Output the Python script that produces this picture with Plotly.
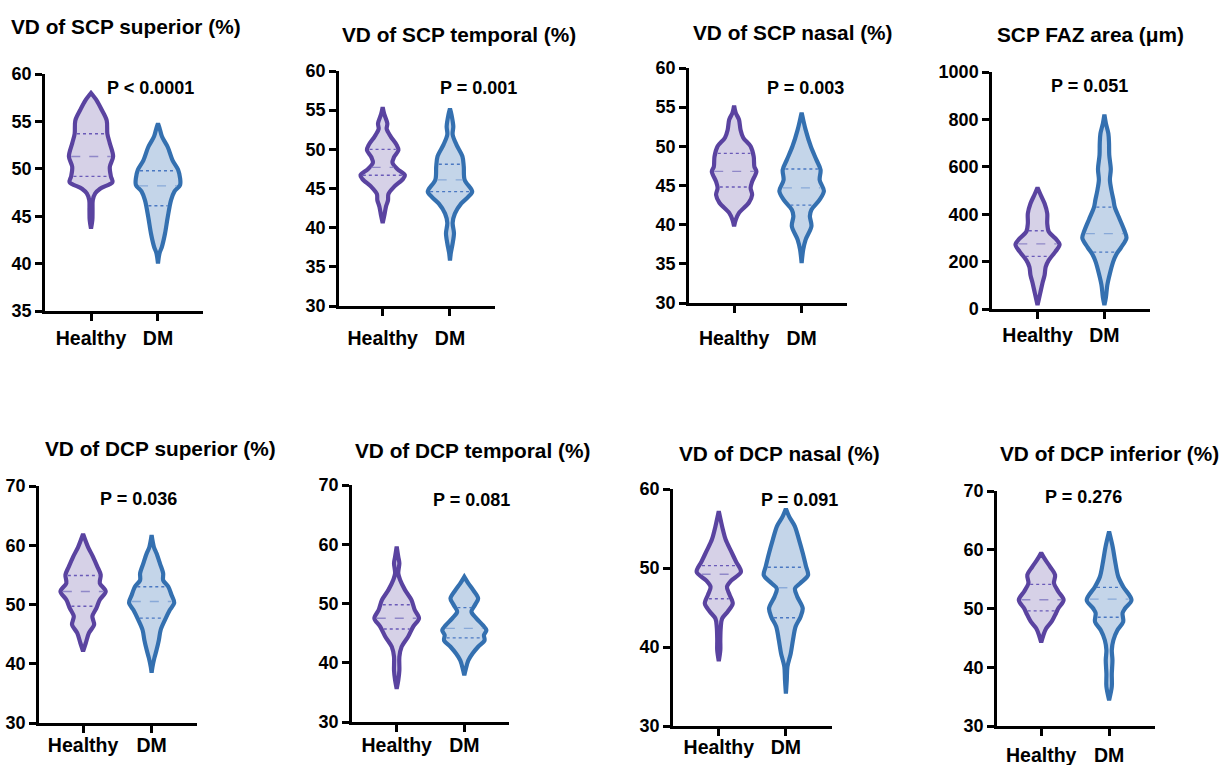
import numpy as np
import plotly.graph_objects as go

groups = ["Healthy", "DM"]

titles = ["VD of SCP superior (%)", "VD of SCP temporal (%)", "VD of SCP nasal (%)", "SCP FAZ area (μm)",
          "VD of DCP superior (%)", "VD of DCP temporal (%)", "VD of DCP nasal (%)", "VD of DCP inferior (%)"]
p_values = ["P < 0.0001", "P = 0.001", "P = 0.003", "P = 0.051",
            "P = 0.036", "P = 0.081", "P = 0.091", "P = 0.276"]
y_ranges = [(35, 60), (30, 60), (30, 60), (0, 1000), (30, 70), (30, 70), (30, 60), (30, 70)]
y_dticks = [5, 5, 5, 200, 10, 10, 10, 10]

# Violin density profiles: value levels and relative density (0-1)
scp_sup_h_y = [58.0, 57.2, 56.2, 55.1, 53.7, 52.7, 51.3, 50.2, 49.2, 48.6, 47.9, 47.4, 46.7, 45.6, 44.6, 43.7]
scp_sup_h_d = [0, .26, .49, .71, .74, .85, 1.0, .85, .90, .97, .41, .19, .08, .07, .06, 0]
scp_sup_dm_y = [54.8, 54.3, 53.4, 52.3, 50.9, 49.9, 49.0, 48.3, 47.6, 46.7, 44.9, 43.2, 41.8, 41.1, 40.0]
scp_sup_dm_d = [0, .07, .18, .44, .66, .91, 1, 1, .74, .59, .44, .32, .18, .07, 0]

scp_tem_h_y = [55.4, 54.5, 53.3, 52.6, 51.6, 50.6, 49.9, 49.0, 48.3, 47.5, 46.7, 46.2, 45.2, 44.3, 43.5, 42.7, 41.5, 40.6]
scp_tem_h_d = [0, .07, .21, .18, .37, .62, .71, .51, .44, .66, 1, .91, .51, .26, .24, .15, .07, 0]
scp_tem_dm_y = [55.2, 54.4, 52.9, 51.9, 50.6, 49.1, 47.8, 46.1, 44.6, 43.9, 43.1, 41.8, 40.6, 39.3, 38.0, 36.8, 35.8]
scp_tem_dm_d = [0, .07, .15, .12, .29, .56, .62, .66, 1, .81, .51, .22, .12, .18, .12, .04, 0]

scp_nas_h_y = [55.2, 54.3, 53.4, 52.1, 51.1, 50.0, 48.7, 47.4, 46.8, 45.5, 44.7, 43.8, 42.8, 41.5, 40.6, 39.8]
scp_nas_h_d = [0, .07, .22, .29, .41, .74, .88, .91, 1, .81, .74, .81, .66, .22, .07, 0]
scp_nas_dm_y = [54.3, 53.4, 52.1, 50.0, 48.3, 47.0, 45.7, 44.3, 43.2, 41.9, 41.1, 39.8, 38.1, 36.8, 35.1]
scp_nas_dm_d = [0, .07, .18, .41, .66, .85, .81, 1, .81, .44, .37, .44, .18, .07, 0]

scp_faz_h_y = [512, 480, 445, 403, 361, 326, 298, 272, 242, 206, 178, 143, 108, 66, 17]
scp_faz_h_d = [0, .15, .32, .44, .44, .51, .81, 1, .81, .51, .37, .32, .22, .12, 0]
scp_faz_dm_y = [820, 782, 740, 700, 650, 590, 545, 500, 460, 430, 380, 330, 300, 260, 230, 200, 150, 100, 50, 17]
scp_faz_dm_d = [0, .07, .18, .21, .22, .29, .25, .32, .41, .47, .69, .91, 1, .76, .54, .40, .25, .13, .07, 0]

dcp_sup_h_y = [61.9, 59.7, 58.05, 56.4, 55.0, 53.6, 52.2, 50.8, 49.4, 48.0, 46.6, 45.2, 43.5, 42.1]
dcp_sup_h_d = [0, .22, .44, .63, .78, .74, 1, .74, .59, .41, .49, .26, .12, 0]
dcp_sup_dm_y = [61.7, 59.7, 58.6, 56.9, 55.25, 54.1, 53.0, 51.6, 50.3, 49.1, 47.4, 45.7, 44.0, 42.35, 40.95, 39.5, 38.5]
dcp_sup_dm_d = [0, .10, .22, .37, .51, .51, .74, .88, 1, .81, .59, .40, .32, .22, .12, .04, 0]

dcp_tem_h_y = [59.6, 57.9, 56.8, 55.1, 54.0, 52.3, 50.6, 48.9, 47.5, 46.1, 44.4, 42.7, 41.0, 38.7, 37.0, 35.6]
dcp_tem_h_d = [0, .07, .12, .07, .15, .37, .66, .81, 1, .74, .51, .22, .12, .12, .07, 0]
dcp_tem_dm_y = [54.5, 53.4, 52.25, 50.85, 49.7, 48.6, 47.5, 46.3, 45.5, 44.65, 43.8, 42.7, 41.55, 40.4, 39.0, 37.9]
dcp_tem_dm_d = [0, .18, .40, .62, .47, .32, .54, .84, .99, .88, .91, .62, .37, .18, .07, 0]

dcp_nas_h_y = [57.2, 54.8, 53.6, 52.1, 50.8, 49.5, 48.4, 47.6, 46.6, 45.5, 44.5, 43.6, 42.5, 40.9, 39.6, 38.2]
dcp_nas_h_d = [0, .19, .31, .56, .78, 1, .56, .37, .49, .63, .41, .15, .09, .07, .07, 0]
dcp_nas_dm_y = [57.5, 56.5, 55.3, 53.6, 51.9, 50.2, 49.1, 48.1, 47.4, 46.4, 44.9, 43.8, 42.6, 40.9, 39.2, 37.5, 35.8, 34.1]
dcp_nas_dm_d = [0, .15, .40, .59, .76, .91, 1, .66, .41, .51, .76, .66, .44, .32, .22, .07, .04, 0]

dcp_inf_h_y = [59.5, 58.3, 57.1, 55.7, 54.3, 52.9, 51.45, 50.0, 49.2, 47.8, 46.6, 45.5, 44.2]
dcp_inf_h_d = [0, .18, .40, .62, .57, .76, 1, .76, .66, .47, .22, .10, 0]
dcp_inf_dm_y = [63.1, 60.5, 58.25, 55.4, 53.7, 51.45, 50.0, 49.2, 47.75, 46.3, 44.6, 42.9, 41.2, 38.9, 36.7, 34.4]
dcp_inf_dm_d = [0, .16, .26, .41, .63, 1, .71, .60, .63, .37, .19, .12, .15, .12, .12, 0]

# Quartiles (Q1, median, Q3) per panel: Healthy, DM
quart_healthy = [(49.2, 51.3, 53.7), (46.7, 47.7, 50.0), (44.8, 46.8, 49.1), (222, 275, 330),
                 (49.7, 52.2, 54.9), (45.7, 47.5, 49.8), (46.1, 49.2, 50.3), (49.6, 51.5, 54.1)]
quart_dm = [(46.1, 48.2, 49.8), (44.6, 46.1, 48.1), (42.5, 44.7, 47.1), (240, 318, 430),
            (47.7, 50.5, 53.0), (44.2, 45.8, 49.3), (43.7, 47.5, 50.1), (48.5, 51.6, 53.6)]

profiles = [
    ((scp_sup_h_y, scp_sup_h_d), (scp_sup_dm_y, scp_sup_dm_d)),
    ((scp_tem_h_y, scp_tem_h_d), (scp_tem_dm_y, scp_tem_dm_d)),
    ((scp_nas_h_y, scp_nas_h_d), (scp_nas_dm_y, scp_nas_dm_d)),
    ((scp_faz_h_y, scp_faz_h_d), (scp_faz_dm_y, scp_faz_dm_d)),
    ((dcp_sup_h_y, dcp_sup_h_d), (dcp_sup_dm_y, dcp_sup_dm_d)),
    ((dcp_tem_h_y, dcp_tem_h_d), (dcp_tem_dm_y, dcp_tem_dm_d)),
    ((dcp_nas_h_y, dcp_nas_h_d), (dcp_nas_dm_y, dcp_nas_dm_d)),
    ((dcp_inf_h_y, dcp_inf_h_d), (dcp_inf_dm_y, dcp_inf_dm_d)),
]

# ---------- styling / layout ----------
W, H = 1222, 765
FONT = "Liberation Sans, Arial, Helvetica, sans-serif"
HALF = 0.33  # max half-width of a violin in category units
line_col = ["#5A43A0", "#3470B0"]
fill_col = ["#D6D1E7", "#C4D5E9"]
q_col = ["#6A5AB8", "#4A78C2"]
med_col = ["#9088C8", "#88A9D8"]

# pixel boxes of each plot area: (left, right, top, bottom)
boxes = [(45, 203, 74, 311), (339, 495, 71, 306), (689, 847, 68, 303), (992, 1150, 72, 309),
         (39, 197, 486, 723), (352, 509, 485, 722), (673, 832, 489, 726), (997, 1155, 491, 726)]
x_ranges = [(-0.687, 1.672), (-0.649, 1.669), (-0.668, 1.672), (-0.681, 1.682),
            (-0.643, 1.662), (-0.661, 1.661), (-0.682, 1.687), (-0.651, 1.676)]
title_pos = [(126, 27), (459, 35), (793, 33), (1090, 35), (160, 448), (473, 450), (779, 453), (1109, 453)]
p_pos = [(150, 88), (478, 88), (806, 88), (1089, 86), (138, 499), (471, 500), (799, 500), (1083, 497)]
x_standoff = [1, 6, 9, 0, -4, -3, -5, 3]

fig = go.Figure()
annotations = []
layout = {}

for i in range(8):
    ax = "" if i == 0 else str(i + 1)
    xref, yref = "x" + ax, "y" + ax
    for g in range(2):
        ys, ds = profiles[i][g]
        ys = np.array(ys, float)
        ds = np.array(ds, float)
        xr = g + ds * HALF
        xl = g - ds * HALF
        xs = np.concatenate([xr, xl[::-1], xr[:1]])
        yy = np.concatenate([ys, ys[::-1], ys[:1]])
        fig.add_trace(go.Scatter(x=xs, y=yy, mode="lines", fill="toself",
                                 fillcolor=fill_col[g],
                                 line=dict(color=line_col[g], width=4.2, shape="spline", smoothing=0.9),
                                 xaxis=xref, yaxis=yref, showlegend=False, hoverinfo="skip"))
        qs = quart_healthy[i] if g == 0 else quart_dm[i]
        order = np.argsort(ys)
        for k, q in enumerate(qs):
            hw = np.interp(q, ys[order], ds[order]) * HALF - 0.035
            fig.add_trace(go.Scatter(x=[g - hw, g + hw], y=[q, q], mode="lines",
                                     line=dict(color=med_col[g] if k == 1 else q_col[g], width=1.4,
                                               dash="dash" if k == 1 else "dot"),
                                     xaxis=xref, yaxis=yref, showlegend=False, hoverinfo="skip"))

    l, r, t, b = boxes[i]
    layout["xaxis" + ax] = dict(domain=[l / W, r / W], range=list(x_ranges[i]), anchor=yref,
                                tickvals=[0, 1], ticktext=groups, showline=True, linecolor="black",
                                linewidth=2.5, ticks="outside", ticklen=7, tickwidth=2.5, tickcolor="black",
                                showgrid=False, zeroline=False, ticklabelstandoff=x_standoff[i],
                                automargin=False, fixedrange=True,
                                tickfont=dict(family=FONT, size=19.5, color="black", weight="bold"))
    y0, y1 = y_ranges[i]
    layout["yaxis" + ax] = dict(domain=[1 - b / H, 1 - t / H], range=[y0, y1], anchor=xref,
                                dtick=y_dticks[i], tick0=0, showline=True, linecolor="black",
                                linewidth=2.5, ticks="outside", ticklen=7, tickwidth=2.5, tickcolor="black",
                                showgrid=False, zeroline=False, automargin=False, fixedrange=True,
                                tickfont=dict(family=FONT, size=18, color="black", weight="bold"))
    tx, ty = title_pos[i]
    annotations.append(dict(text=titles[i], x=tx / W, y=1 - ty / H, xref="paper", yref="paper",
                            showarrow=False, xanchor="center", yanchor="middle",
                            font=dict(family=FONT, size=20.8, color="black", weight="bold")))
    px, py = p_pos[i]
    annotations.append(dict(text=p_values[i], x=px / W, y=1 - py / H, xref="paper", yref="paper",
                            showarrow=False, xanchor="center", yanchor="middle",
                            font=dict(family=FONT, size=18, color="black", weight="bold")))

fig.update_layout(width=W, height=H, margin=dict(l=0, r=0, t=0, b=0, autoexpand=False),
                  template="none", paper_bgcolor="white", plot_bgcolor="white",
                  annotations=annotations, **layout)
fig.write_html("out.html", config={"displayModeBar": False},
               post_script="document.body.style.margin='0';document.body.style.overflow='hidden';")
